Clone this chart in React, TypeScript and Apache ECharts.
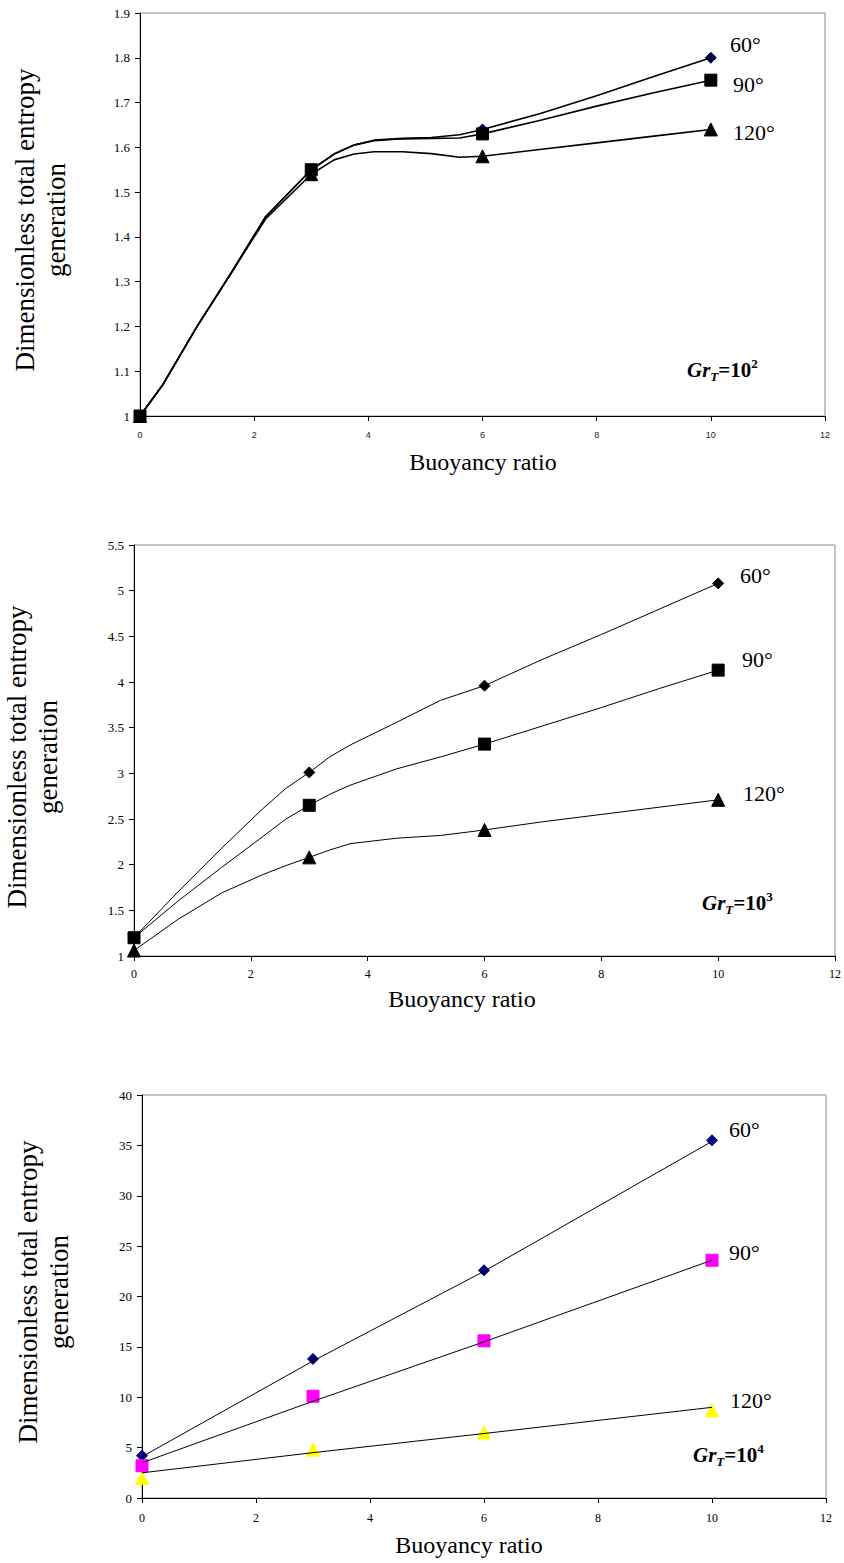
import React, { useEffect, useRef } from "react";
import * as echarts from "echarts";

// ---------- data ----------
const markX = [0, 3, 6, 10];

// Chart 1 (Gr_T = 10^2)
const c1Mark60 = [1.0, 1.55, 1.64, 1.8];
const c1Mark90 = [1.0, 1.55, 1.63, 1.75];
const c1Mark120 = [1.0, 1.54, 1.58, 1.64];
const c1CurveX = [0, 0.4, 1, 1.6, 2.2, 3, 3.4, 3.75, 4.1, 4.6, 5.1, 5.6, 6, 7, 8, 9, 10];
const c1Curve60 = [1.0, 1.07, 1.2, 1.32, 1.445, 1.55, 1.585, 1.605, 1.616, 1.62, 1.622, 1.628, 1.64, 1.675, 1.715, 1.758, 1.8];
const c1Curve90 = [1.0, 1.07, 1.2, 1.32, 1.445, 1.55, 1.585, 1.605, 1.615, 1.619, 1.62, 1.621, 1.63, 1.66, 1.692, 1.722, 1.75];
const c1Curve120 = [1.0, 1.07, 1.2, 1.32, 1.44, 1.54, 1.572, 1.585, 1.59, 1.59, 1.586, 1.578, 1.58, 1.595, 1.61, 1.625, 1.64];

// Chart 2 (Gr_T = 10^3)
const c2Mark60 = [1.2, 3.01, 3.96, 5.08];
const c2Mark90 = [1.2, 2.65, 3.32, 4.13];
const c2Mark120 = [1.06, 2.08, 2.38, 2.71];
const c2CurveX = [0, 0.75, 1.5, 2.2, 2.6, 3, 3.35, 3.7, 4.5, 5.25, 6, 7, 8, 9, 10];
const c2Curve60 = [1.2, 1.7, 2.18, 2.61, 2.835, 3.01, 3.18, 3.31, 3.56, 3.8, 3.96, 4.25, 4.52, 4.8, 5.08];
const c2Curve90 = [1.2, 1.6, 1.97, 2.305, 2.5, 2.65, 2.77, 2.87, 3.05, 3.18, 3.32, 3.52, 3.72, 3.93, 4.13];
const c2Curve120 = [1.06, 1.4, 1.69, 1.89, 1.99, 2.08, 2.16, 2.23, 2.29, 2.32, 2.38, 2.47, 2.55, 2.63, 2.71];

// Chart 3 (Gr_T = 10^4)
const c3Mark60 = [4.2, 13.8, 22.6, 35.5];
const c3Mark90 = [3.2, 10.1, 15.6, 23.6];
const c3Mark120 = [2.0, 4.8, 6.5, 8.7];
const c3Line60 = [4.1, 13.6, 22.5, 35.4];
const c3Line90 = [3.5, 9.6, 15.5, 23.6];
const c3Line120 = [2.5, 4.5, 6.4, 9.0];

const angleLabels = ["60°", "90°", "120°"];
const grLabels = ["2", "3", "4"];
const yTitle = "Dimensionless total entropy\ngeneration";
const xTitle = "Buoyancy ratio";

const SERIF = "'Liberation Serif', 'Times New Roman', serif";
const SANS = "'Liberation Sans', Arial, sans-serif";

const zip = (xs: number[], ys: number[]) => xs.map((x, i) => [x, ys[i]]);

export default function App() {
  const ref = useRef<HTMLDivElement>(null);

  useEffect(() => {
    if (!ref.current) return;
    const chart = echarts.init(ref.current, undefined, { renderer: "svg" });

    const grids = [
      { left: 140, top: 13, width: 685, height: 403 },
      { left: 134, top: 545, width: 704, height: 411 },
      { left: 142, top: 1095, width: 684, height: 403 },
    ];
    const yCfg = [
      { min: 1, max: 1.9, interval: 0.1 },
      { min: 1, max: 5.5, interval: 0.5 },
      { min: 0, max: 40, interval: 5 },
    ];
    const xLabelStyle = [
      { fontFamily: SANS, fontSize: 9, margin: 14, color: "#222" },
      { fontFamily: SERIF, fontSize: 12, margin: 12, color: "#000" },
      { fontFamily: SERIF, fontSize: 12, margin: 14, color: "#000" },
    ];

    const xAxis = grids.map((_, i) => ({
      type: "value",
      gridIndex: i,
      min: 0,
      max: 12,
      interval: 2,
      axisLine: { show: true, onZero: false, lineStyle: { color: "#000", width: 1 } },
      axisTick: { show: true, length: 5, lineStyle: { color: "#000" } },
      splitLine: { show: false },
      axisLabel: { ...xLabelStyle[i] },
    }));
    const yAxis = grids.map((_, i) => ({
      type: "value",
      gridIndex: i,
      ...yCfg[i],
      axisLine: { show: true, onZero: false, lineStyle: { color: "#000", width: 1 } },
      axisTick: { show: true, length: 5, lineStyle: { color: "#000" } },
      splitLine: { show: false },
      axisLabel: { fontFamily: SERIF, fontSize: 13, color: "#000", margin: 10 },
    }));

    const lineS = (i: number, data: number[][], width: number) => ({
      type: "line",
      xAxisIndex: i,
      yAxisIndex: i,
      data,
      showSymbol: false,
      symbol: "none",
      smooth: false,
      lineStyle: { color: "#000", width, join: "round" },
      z: 2,
      silent: true,
    });
    const markS = (i: number, ys: number[], symbol: string, size: any, color: string, border: string, z: number) => ({
      type: "scatter",
      xAxisIndex: i,
      yAxisIndex: i,
      data: zip(markX, ys),
      symbol,
      symbolSize: size,
      itemStyle: { color, borderColor: border, borderWidth: 1, opacity: 1 },
      z,
      silent: true,
    });

    const series: any[] = [
      lineS(0, zip(c1CurveX, c1Curve60), 1.6),
      lineS(0, zip(c1CurveX, c1Curve90), 1.6),
      lineS(0, zip(c1CurveX, c1Curve120), 1.6),
      markS(0, c1Mark60, "diamond", 11, "#000033", "#000080", 3),
      markS(0, c1Mark120, "triangle", 13, "#000", "#000", 4),
      markS(0, c1Mark90, "rect", 12, "#000", "#000", 5),

      lineS(1, zip(c2CurveX, c2Curve60), 1),
      lineS(1, zip(c2CurveX, c2Curve90), 1),
      lineS(1, zip(c2CurveX, c2Curve120), 1),
      markS(1, c2Mark60, "diamond", 11, "#000", "#000", 3),
      markS(1, c2Mark120, "triangle", 13, "#000", "#000", 4),
      markS(1, c2Mark90, "rect", 12, "#000", "#000", 5),

      lineS(2, zip(markX, c3Line60), 1),
      lineS(2, zip(markX, c3Line90), 1),
      lineS(2, zip(markX, c3Line120), 1),
      markS(2, c3Mark60, "diamond", 11, "#000080", "#000080", 1),
      markS(2, c3Mark120, "triangle", 13, "#FFFF00", "#FFFF00", 1),
      markS(2, c3Mark90, "rect", 12, "#FF00FF", "#FF00FF", 1),
    ];

    // annotation positions (pixels)
    const angPos = [
      [[730, 44], [733, 84], [733, 132]],
      [[740, 575], [742, 659], [743, 793]],
      [[729, 1129], [729, 1252], [730, 1400]],
    ];
    const grPos = [[687, 370], [702, 903], [693, 1455]];
    const yTitlePos = [[40, 220], [32, 757], [43, 1292]];
    const xTitlePos = [[483, 462], [462, 999], [469, 1545]];

    const graphic: any[] = [];
    for (let c = 0; c < 3; c++) {
      angleLabels.forEach((t, k) => {
        graphic.push({
          type: "text",
          x: angPos[c][k][0],
          y: angPos[c][k][1],
          silent: true,
          style: {
            text: t,
            fill: "#000",
            fontFamily: SERIF,
            fontSize: 22,
            textAlign: "left",
            textVerticalAlign: "middle",
            align: "left",
            verticalAlign: "middle",
          },
        });
      });
      graphic.push({
        type: "text",
        x: grPos[c][0],
        y: grPos[c][1],
        silent: true,
        style: {
          text: `{i|Gr}{s|T}{b|=10}{p|${grLabels[c]}}`,
          textAlign: "left",
          textVerticalAlign: "middle",
          align: "left",
          verticalAlign: "middle",
          rich: {
            i: { fontFamily: SERIF, fontSize: 21, fontStyle: "italic", fontWeight: "bold", fill: "#000", lineHeight: 26, verticalAlign: "middle" },
            s: { fontFamily: SERIF, fontSize: 13, fontStyle: "italic", fontWeight: "bold", fill: "#000", lineHeight: 26, verticalAlign: "bottom" },
            b: { fontFamily: SERIF, fontSize: 21, fontWeight: "bold", fill: "#000", lineHeight: 26, verticalAlign: "middle" },
            p: { fontFamily: SERIF, fontSize: 13, fontWeight: "bold", fill: "#000", lineHeight: 26, verticalAlign: "top" },
          },
        },
      });
      graphic.push({
        type: "text",
        x: yTitlePos[c][0],
        y: yTitlePos[c][1],
        rotation: Math.PI / 2,
        silent: true,
        style: {
          text: yTitle,
          fill: "#000",
          fontFamily: SERIF,
          fontSize: 27,
          lineHeight: 31,
          textAlign: "center",
          textVerticalAlign: "middle",
          align: "center",
          verticalAlign: "middle",
        },
      });
      graphic.push({
        type: "text",
        x: xTitlePos[c][0],
        y: xTitlePos[c][1],
        silent: true,
        style: {
          text: xTitle,
          fill: "#000",
          fontFamily: SERIF,
          fontSize: 24,
          textAlign: "center",
          textVerticalAlign: "middle",
          align: "center",
          verticalAlign: "middle",
        },
      });
    }

    chart.setOption({
      animation: false,
      backgroundColor: "#fff",
      grid: grids.map((g) => ({ ...g, show: true, borderColor: "#8c8c8c", borderWidth: 1, backgroundColor: "transparent", containLabel: false })),
      xAxis,
      yAxis,
      series,
      graphic,
    });

    return () => chart.dispose();
  }, []);

  return (
    <div
      ref={ref}
      style={{ position: "absolute", left: 0, top: 0, width: 844, height: 1563, background: "#fff" }}
    />
  );
}
